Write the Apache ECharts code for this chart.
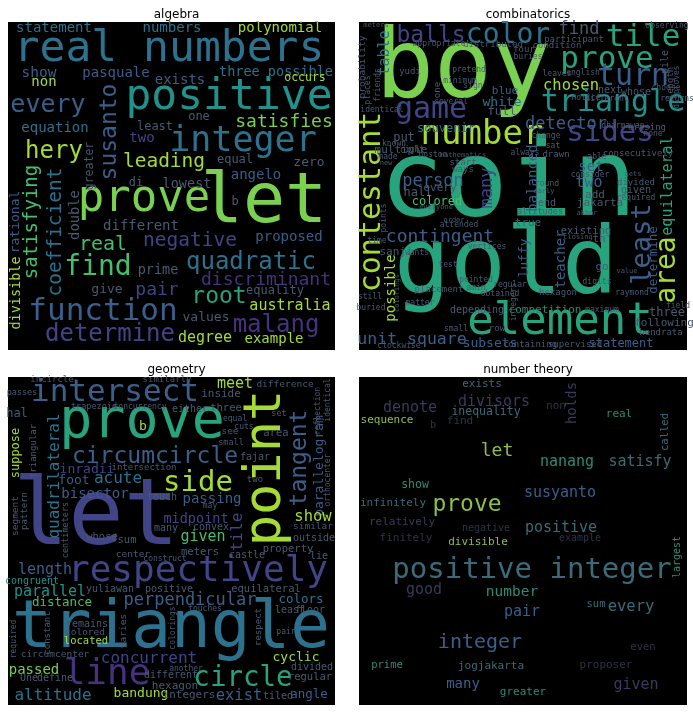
<!DOCTYPE html>
<html><head><meta charset="utf-8">
<script src="https://cdn.jsdelivr.net/npm/echarts@6/dist/echarts.min.js"></script>
<style>html,body{margin:0;padding:0;background:#fff}#c{width:693px;height:712px}</style>
</head><body><div id="c"></div>
<script>
// word, x, y (position in the panel's word-cloud image, px), font size, vertical(1), tone
const titles = ['algebra', 'combinatorics', 'geometry', 'number theory'];
const tones = ['#46327e','#414487','#3b5f8a','#2c728e','#21918c','#27a37e','#44bf70','#7ad151','#a5db36','#4a5a70','#2e3446','#3b6b7a','#3a3a5c','#8fbf4a','#2f8a74'];

const algebraWords = [
['real numbers',161,28,43,0,3],['positive',221,76,43,0,4],['integer',235,120,35,0,3],
['let',256,182,70,0,7],['prove',136,178,44,0,7],['function',95,290,31,0,2],
['determine',102,313,24,0,1],['quadratic',243,241,24,0,3],['find',90,246,28,0,6],
['root',211,275,23,0,5],['malang',268,304,24,0,0],['discriminant',258,258,18,0,0],
['negative',182,219,19.5,0,1],['satisfying',24,200,19,1,6],['coefficient',48,210,19.5,1,3],
['susanto',102,110,23,1,2],['every',40,83,25,0,2],['hery',46,130,24,0,8],
['satisfies',276,100,18,0,7],['leading',156,140,19.5,0,8],['real',95,223,20,0,6],
['pair',149,268,18,0,1],['statement',46,6,14,0,3],['numbers',164,6,14,0,3],
['polynomial',272,6,14,0,8],['show',31,51,14.5,0,2],['pasquale',108,51,14,0,2],
['three possible',268,50,13.5,0,3],['non',36,60,14,0,8],['exists',172,58,14,0,2],
['occurs',297,56,11.5,0,8],['one',191,95,12,0,9],['equation',47,106,14,0,3],
['least',147,105,12,0,9],['two',134,116,14,0,1],['equal',227,138,12,0,9],
['zero',301,141,13,0,9],['angelo',248,153,14,0,2],['di',128,161,12,0,9],
['lowest',179,162,13.5,0,9],['greater',82,144,11.5,1,9],['double',67,193,13.8,1,9],
['rational',8,200,13,1,2],['divisible',8,271,13.5,1,8],['b',227,180,12,0,9],
['different',133,204,14,0,9],['proposed',281,215,14,0,2],['prime',150,248,13.5,0,9],
['give',99,268,13,0,9],['equality',267,269,12,0,9],['australia',282,284,15,0,8],
['values',198,296,13,0,9],['degree',197,316,15,0,8],['example',266,317,14,0,8]
];

const combinatoricsWords = [
['boy',104,50,97,0,7],['coin',149,165,107,0,5],['gold',147,247,93,0,5],
['contestant',13,180,30,1,8],['element',201,301,44,0,5],['tile',284,16,31,0,5],
['color',149,14,28,0,3],['balls',72,14,23,0,1],['prove',248,38,31,0,5],
['turn',274,55,30,0,2],['find',220,8,17,0,9],['participant',215,18,9,0,9],
['table',26,31,15,1,3],['probability',4,45,9.5,1,9],['meters',17,3,7,0,9],
['chosen',212,64,15.5,0,8],['triangle',254,81,30,0,4],['game',72,88,30,0,1],
['number',123,113,34,0,8],['sides',251,111,29,0,1],['detector',207,103,17,0,2],
['next',251,68,10,0,9],['whose',277,70,10,0,9],['blue',146,69,11,0,2],
['white',143,81,13,0,3],['full',143,90,12,0,9],['souvenir',87,107,12,0,3],
['put',45,116,12,0,9],['multiple',42,128,11,0,9],['set',232,145,14,0,2],
['two',230,161,15,0,2],['person',74,160,17,0,2],['equilateral',309,164,15,1,5],
['balanced',174,156,14,1,2],['many',129,166,17,1,1],['drawn',197,133,9,0,9],
['always',166,131,8,0,9],['boston',74,133,8,0,9],['mathematics',104,133,7,0,9],
['made',29,135,8,0,9],['hall',59,171,12,0,9],['every',81,166,11,0,9],
['colored',78,180,12,0,6],['end',188,181,10,0,9],['add',236,173,11,0,9],
['jakarta',241,181,11,0,9],['given',277,168,10,0,9],['required',277,176,8,0,9],
['altitudes',181,190,8.5,0,9],['true',169,201,11,0,9],['contingent',81,215,18,0,2],
['least',284,222,27,1,2],['area',309,248,28,1,8],['existing',227,209,10.5,0,9],
['th',240,217,11,0,9],['teacher',202,237,14,1,2],['luffy',166,236,13,1,2],
['possible',32,266,14,1,8],['determine',295,238,12.5,1,2],['sanji',37,230,11,0,9],
['unit square',53,318,16.5,0,2],['competition',186,288,11,0,14],['three',308,291,12,0,9],
['following',305,301,11,0,9],['statement',262,322,12,0,2],['subsets',131,322,13,0,2],
['containing',171,323,9,0,9],['supervised',216,323,9,0,9],['hendrata',302,311,9,0,9],
['depending',118,288,10,0,9],['placement',80,268,9,0,9],['pointed',117,258,8,0,9],
['hexagon',199,271,9,0,9],['raymond',273,271,8,0,9],['digits',238,260,8,0,9],
['go',243,245,11,0,9],['maximum',243,288,8,0,9],['small',97,307,8,0,9],
['row',138,307,9,0,9],['clockwise',40,324,8,0,9],['matter',61,281,8,0,9],
['still',11,275,8,0,9],['buried',12,286,8,0,9],['consecutively',279,132,9,0,9],
['observing',308,4,8,0,9],['appropriate',80,22,8,0,9],['distributed',134,23,9,0,9],
['condition',198,24,9,0,9],['four',165,28,9,0,9],['buries',169,35,8,0,9],
['pile',306,40,10,1,9],['length',312,61,9,1,9],['disproves',318,65,8,1,9],
['english',224,51,8,0,9],['leaves',198,52,8,0,9],['choose',307,66,8,0,9],
['notice',227,76,8,0,9],['different',248,77,8,0,9],['returns',318,77,8,0,9],
['yudi',51,50,9,0,9],['one',79,68,9,1,9],['several',92,80,8,0,9],
['identical',23,88,8,0,9],['places',9,68,8,1,9],['friends',19,63,8,1,9],
['minimum',101,59,8,0,9],['sign',114,64,8,0,9],['pretend',110,48,8,0,9],
['erasing',288,106,9,0,9],['dharmawan',264,104,8,0,9],['none',294,112,8,0,9],
['change',187,114,8,0,9],['sat',194,124,8,0,9],['able',238,135,8,0,9],
['consider',231,153,8,0,9],['round',188,162,8,0,9],['divided',277,161,9,0,9],
['gets',274,152,7,0,9],['start',104,141,9,0,9],['ways',104,148,9,0,9],
['right',53,128,8,0,9],['known',35,122,8,0,9],['new',27,141,7,0,9],
['everyone',77,185,7,0,9],['attended',100,203,8,0,9],['order',95,198,7,0,9],
['time',18,219,8,0,9],['points',25,196,8,1,9],['wants',58,231,8,0,9],
['vertices',128,225,8,0,9],['closing',219,215,7,0,9],['test',89,243,8,0,9],
['amin',117,266,8,0,9],['regular',151,263,8,0,9],['obtained',141,272,8,0,9],
['value',268,249,7,0,9],['field',319,284,8,0,9],['akbar',228,191,7,0,9],
['early',185,169,7,0,9],['integers',155,280,8,1,9],['colorings',38,271,7,1,9]
];

const geometryWords = [
['triangle',163,253,66,0,3],['let',88,143,92,0,1],['respectively',190,195,36,0,1],
['prove',134,46,55,0,5],['point',258,91,52,1,8],['intersect',107,16,31,0,2],
['circumcircle',147,80,23,0,2],['side',190,106,29,0,8],['tangent',292,81,23,1,2],
['parallelogram',312,89,13,1,2],['quadrilateral',47,99,16,1,3],['line',99,298,36,0,0],
['circle',235,302,27.5,0,5],['perpendicular',182,224,17,0,2],['concurrent',141,282,16,0,1],
['parallel',42,215,15,0,4],['distance',54,226,12.5,0,6],['length',37,193,15,0,2],
['altitude',45,319,16,0,3],['bandung',133,317,13,0,8],['exist',231,319,15.5,0,2],
['angle',301,318,12.5,0,2],['cyclic',288,281,13,0,8],['passed',26,293,14,0,7],
['colors',293,223,12.5,0,3],['meet',227,7,15,0,8],['inside',213,17,11,0,9],
['either',182,32,10,0,9],['three',218,31,10.5,0,9],['difference',277,8,9.5,0,9],
['incircle',44,3,9,0,9],['similarly',159,3,9,0,9],['passes',14,16,8.5,0,9],
['trapezoid',86,30,8.5,0,9],['concurrency',132,30,8,0,9],['hal',9,37,12,0,9],
['b',135,50,13,0,8],['reflection',310,34,8,1,9],['identical',320,23,8,1,9],
['orthocenter',320,103,8,1,9],['equal',227,42,8,0,9],['cuts',236,50,8,0,9],
['set',271,37,8.5,0,9],['see',222,55,9.5,0,9],['area',268,56,10.5,0,9],
['small',223,66,8.5,0,9],['suppose',8,76,12,1,8],['triangular',26,74,9,1,9],
['fajar',247,80,10,0,9],['inradii',79,93,13,0,1],['intersection',136,91,9,0,9],
['foot',66,104,13,0,2],['acute',110,102,16,0,3],['two',247,103,9,0,9],
['bisector',87,117,14,0,2],['touch',154,120,10,0,9],['passing',204,122,14,0,2],
['may',202,129,8,0,9],['segment',8,139,9.5,1,9],['pattern',17,134,9,1,9],
['centimeters',58,153,8.5,1,9],['midpoint',188,142,13.5,0,1],['tile',230,155,16,1,1],
['show',305,140,15.5,0,8],['similar',305,150,9.5,0,9],['outside',306,161,10,0,9],
['convex',203,150,10,0,9],['many',158,151,10,0,9],['given',195,160,15,0,6],
['whose',94,160,10.5,0,9],['sum',119,163,10.5,0,9],['center',125,178,9.5,0,9],
['construct',157,182,8,0,9],['meters',192,175,10.5,0,9],['castle',239,178,10,0,9],
['property',280,172,10.5,0,9],['lie',311,179,10,0,9],['congruent',24,204,10,0,4],
['yuliawan',102,212,10,0,9],['positive',161,212,10,0,9],['equilateral',258,212,10.5,0,9],
['least',282,233,10,0,9],['floor',302,233,10,0,9],['touches',197,232,8,0,9],
['remains',79,247,10,0,9],['colored',77,256,9.5,0,9],['located',78,264,10.5,0,8],
['varies',116,254,9.5,1,9],['constant',40,256,9,1,9],['required',6,262,8,1,9],
['colorings',165,251,8,1,9],['respect',251,250,9,1,9],['pair',278,255,8,0,9],
['circumcenter',47,278,9.5,0,9],['divided',304,290,10,0,9],['One',21,301,10,0,9],
['define',47,301,10,0,9],['another',178,292,8,0,9],['different',163,298,10,0,9],
['regular',302,300,10.5,0,9],['hexagon',167,309,11,0,9],['integers',181,318,11,0,9],
['tiled',270,319,10,0,9]
];

const numberTheoryWords = [
['positive integer',173,193,29,0,11],['integer',121,266,20,0,2],['prove',108,128,23,0,13],
['let',138,74,18,0,13],['nanang',208,85,15,0,14],['satisfy',281,85,15,0,11],
['susyanto',201,116,15,0,2],['positive',202,151,15,0,11],['divisors',135,25,15,0,12],
['denote',51,31,15,0,12],['holds',213,26,14,1,12],['exists',123,7,11,0,11],
['non',197,29,11,0,10],['inequality',127,35,11.5,0,11],['real',260,37,11,0,14],
['sequence',28,43,11,0,13],['find',101,44,11,0,10],['b',74,48,10,0,10],
['called',306,55,10.5,1,11],['show',56,108,11.5,0,14],['infinitely',34,126,11,0,11],
['relatively',43,145,11,0,12],['negative',127,151,10,0,10],['example',221,161,10,0,10],
['finitely',47,161,11,0,10],['divisible',119,165,11,0,13],['largest',318,180,10,1,14],
['good',65,213,15,0,12],['number',153,215,14.5,0,14],['sum',237,227,10.5,0,11],
['every',272,230,15.5,0,11],['pair',163,235,15,0,2],['even',284,270,10.5,0,10],
['prime',28,288,10.5,0,14],['jogjakarta',132,289,11,0,11],['proposer',247,288,11,0,10],
['many',104,307,14,0,2],['given',277,308,15,0,12],['greater',164,315,11,0,14]
];

const panelWords = [algebraWords, combinatoricsWords, geometryWords, numberTheoryWords];
const boxes = [
  {left: 8, top: 22, width: 327, height: 328},
  {left: 359, top: 22, width: 328, height: 328},
  {left: 8, top: 377, width: 327, height: 328},
  {left: 359, top: 377, width: 328, height: 328}
];

const chart = echarts.init(document.getElementById('c'), null, {renderer: 'canvas'});
const option = {
  animation: false,
  backgroundColor: '#ffffff',
  title: boxes.map((b, i) => ({
    text: titles[i], left: b.left + b.width / 2, top: b.top - 18, textAlign: 'center',
    textStyle: {fontSize: 12, fontWeight: 'normal', fontFamily: 'DejaVu Sans', color: '#000'}
  })),
  grid: boxes.map(b => ({left: b.left, top: b.top, width: b.width, height: b.height,
    show: true, backgroundColor: '#000000', borderWidth: 0, containLabel: false})),
  xAxis: boxes.map((b, i) => ({gridIndex: i, type: 'value', min: 0, max: b.width, show: false})),
  yAxis: boxes.map((b, i) => ({gridIndex: i, type: 'value', min: 0, max: b.height, inverse: true, show: false})),
  series: panelWords.map((rows, i) => ({
    type: 'custom', coordinateSystem: 'cartesian2d', xAxisIndex: i, yAxisIndex: i, clip: false,
    data: rows.map(r => [r[1], r[2]]),
    renderItem: function (params, api) {
      const r = rows[params.dataIndex];
      const p = api.coord([api.value(0), api.value(1)]);
      return {
        type: 'text', x: p[0], y: p[1], rotation: r[4] ? Math.PI / 2 : 0,
        style: {text: r[0], fontSize: r[3], fontFamily: 'DejaVu Sans Mono', fill: tones[r[5]],
          align: 'center', verticalAlign: 'middle'}
      };
    }
  }))
};
chart.setOption(option);
</script></body></html>
